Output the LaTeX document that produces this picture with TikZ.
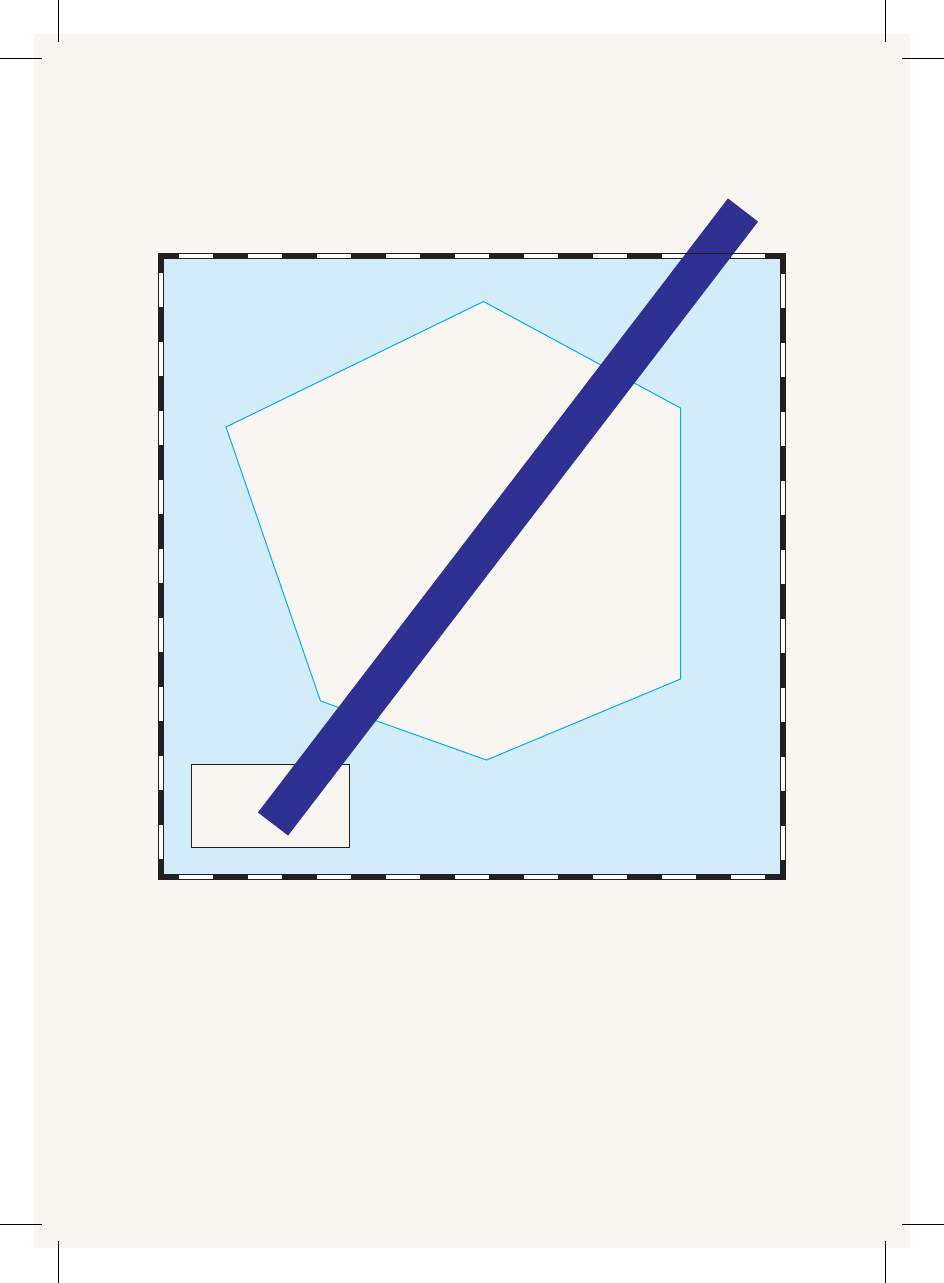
\documentclass[tikz,border=0pt]{standalone}
\usepackage{xcolor}
\definecolor{paper}{HTML}{F9F6F1}
\definecolor{skyfill}{HTML}{D2EDF9}
\definecolor{cyanline}{HTML}{00AEEF}
\definecolor{barblue}{HTML}{2E3192}
\definecolor{inkblack}{HTML}{231F20}
\tikzset{
  cropmark/.style={draw=black,line width=1pt},
  framebase/.style={draw=inkblack,line width=6pt},
  framedash/.style={draw=white,line width=4pt,dash pattern=on 34pt off 35pt,dash phase=51pt},
  hexshape/.style={fill=paper,draw=cyanline,line width=1pt,line join=miter},
  insetbox/.style={fill=paper,draw=inkblack,line width=0.8pt},
  diagbar/.style={draw=barblue,line width=38pt,line cap=butt}
}
\begin{document}
\begin{tikzpicture}[x=1pt,y=-1pt]
\useasboundingbox (0,0) rectangle (944,1283);
\fill[white] (0,0) rectangle (944,1283);
% page
\fill[paper] (34,34) rectangle (910,1248);
% crop marks
\draw[cropmark] (58,0) -- (58,42);
\draw[cropmark] (0,58) -- (42,58);
\draw[cropmark] (885.5,0) -- (885.5,42);
\draw[cropmark] (902,58) -- (944,58);
\draw[cropmark] (58,1241) -- (58,1283);
\draw[cropmark] (0,1224) -- (42,1224);
\draw[cropmark] (885.5,1241) -- (885.5,1283);
\draw[cropmark] (902,1224) -- (944,1224);
% frame corners
\coordinate (tl) at (161,256);
\coordinate (tr) at (783,256);
\coordinate (br) at (783,877);
\coordinate (bl) at (161,877);
\fill[skyfill] (tl) rectangle (br);
% hexagon
\coordinate (h1) at (483.5,301.5);
\coordinate (h2) at (680.5,408);
\coordinate (h3) at (680.5,679);
\coordinate (h4) at (486.5,760);
\coordinate (h5) at (320.5,701);
\coordinate (h6) at (226,427);
\draw[hexshape] (h1) -- (h2) -- (h3) -- (h4) -- (h5) -- (h6) -- cycle;
% frame
\draw[framebase,line join=miter] (tl) -- (tr) -- (br) -- (bl) -- cycle;
\draw[framedash] (tl) -- (tr);
\draw[framedash] (tr) -- (br);
\draw[framedash] (br) -- (bl);
\draw[framedash] (bl) -- (tl);
% inset box
\draw[insetbox] (191,764) rectangle (349,847);
% diagonal bar
\coordinate (b0) at (273,824);
\coordinate (b1) at (743,210);
\draw[diagbar] (b0) -- (b1);
% thin frame edge over the bar
\draw[draw=inkblack,line width=0.8pt] (158,253.4) -- (786,253.4);
\end{tikzpicture}
\end{document}
